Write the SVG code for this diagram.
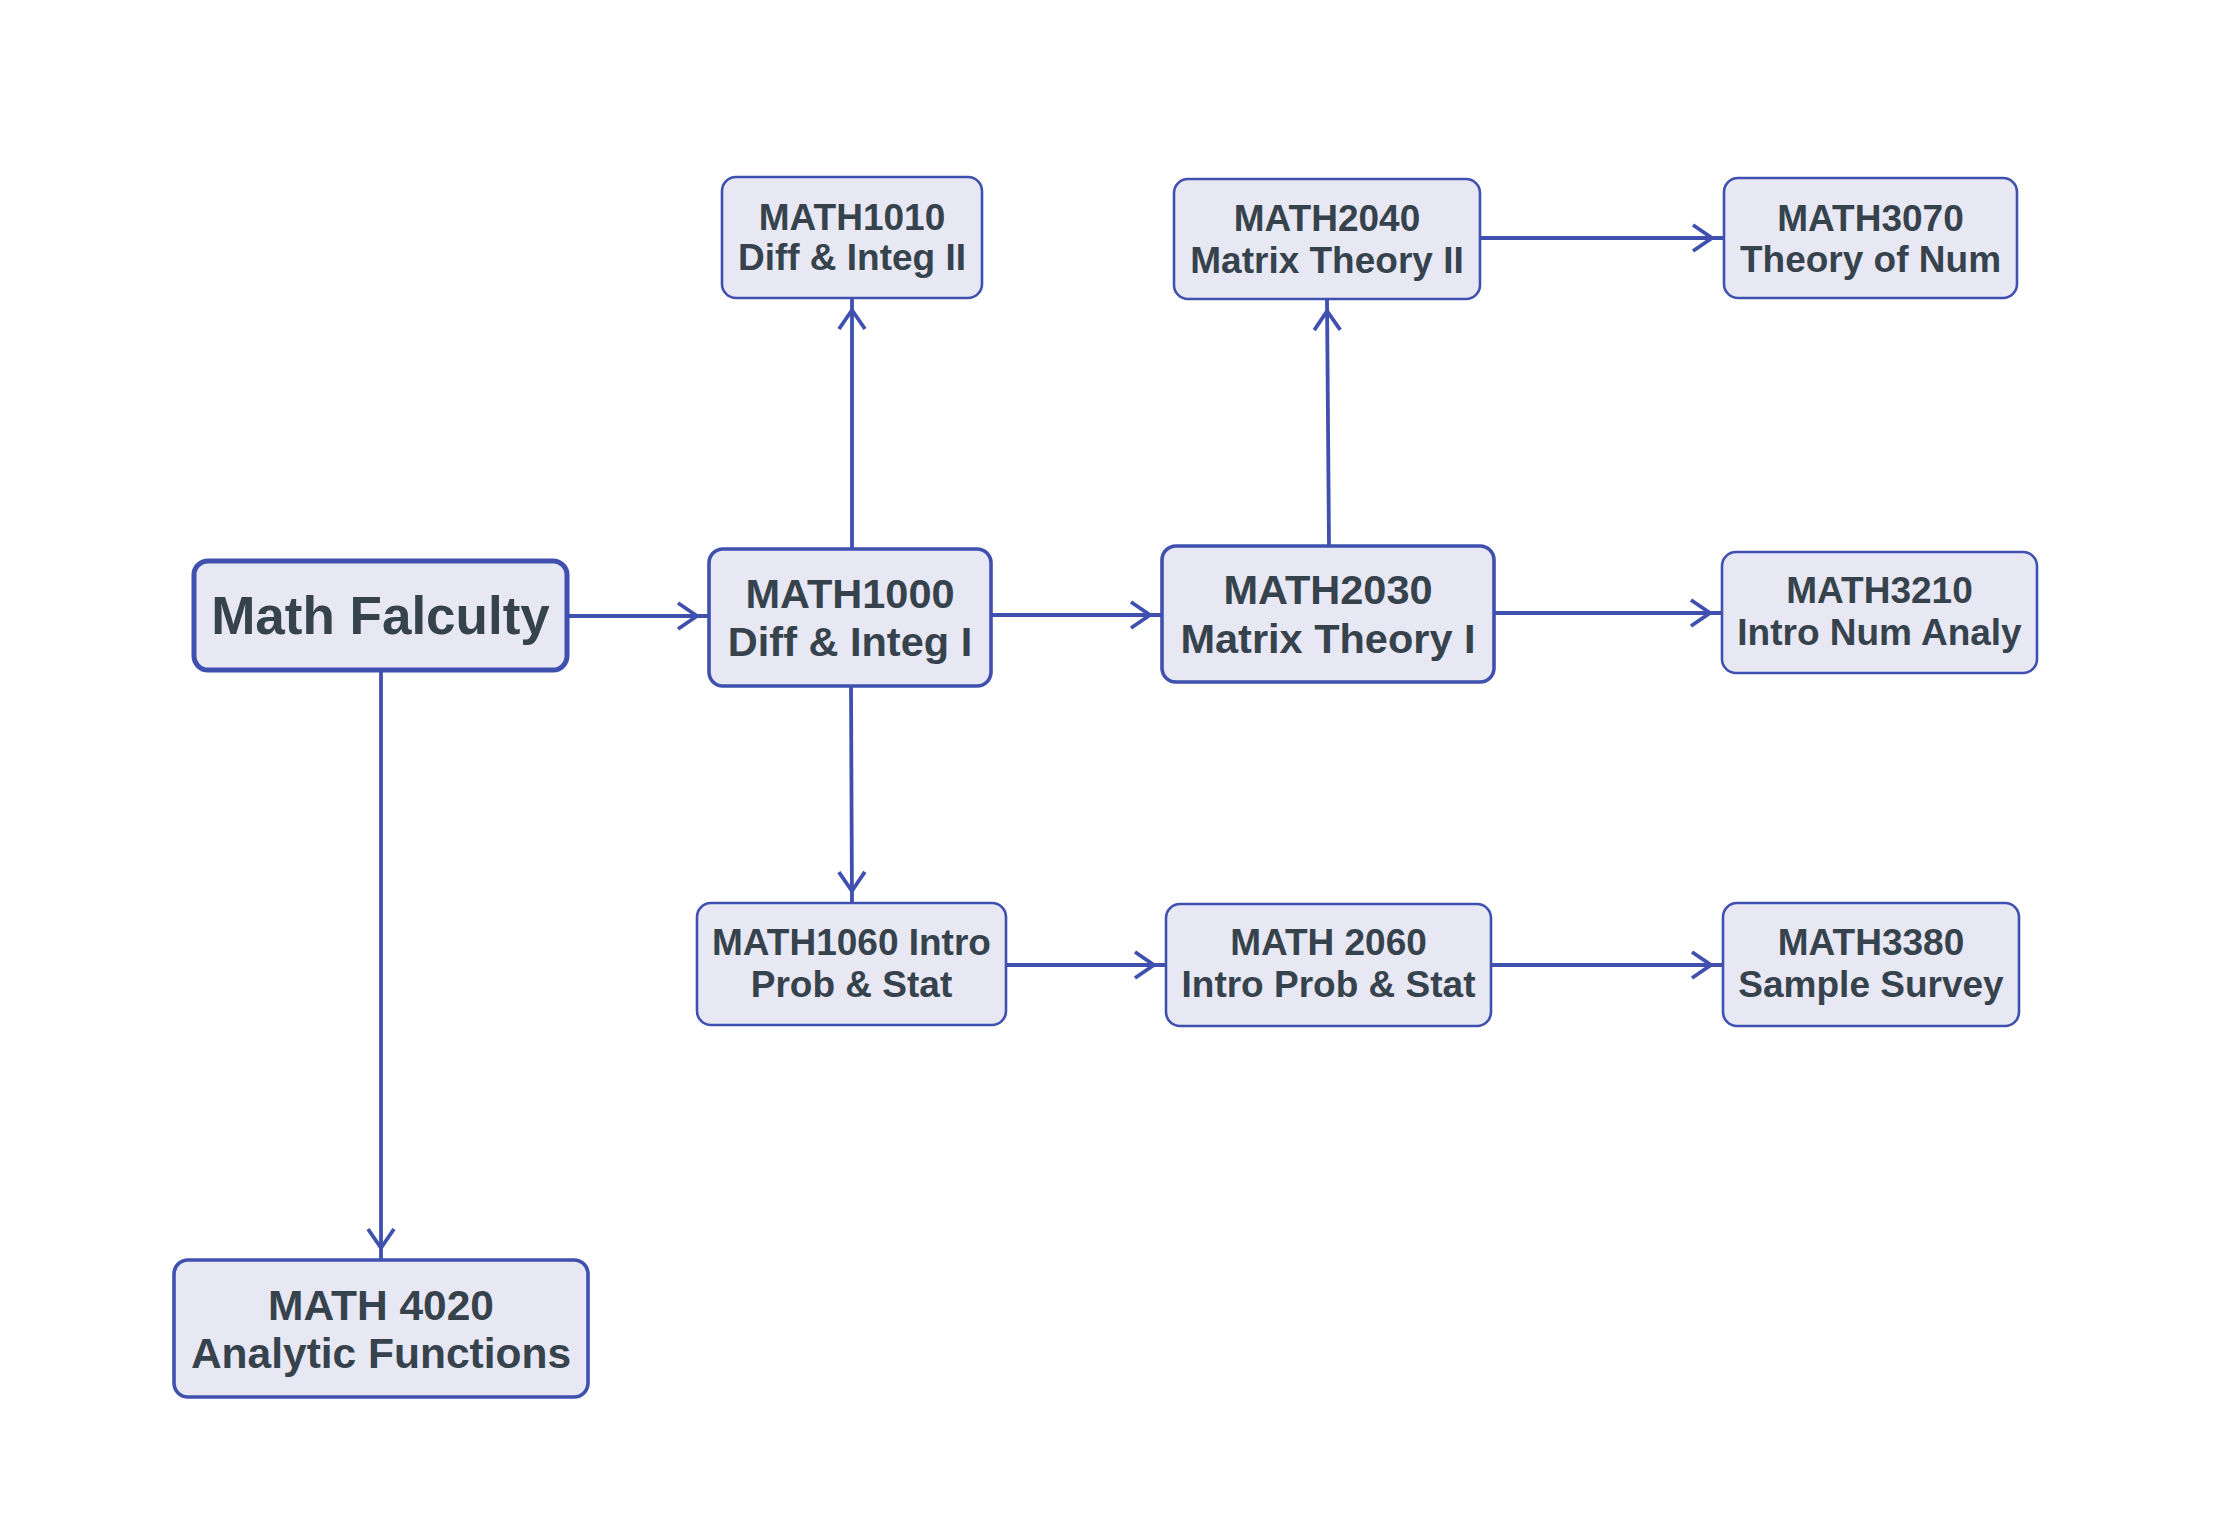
<svg xmlns="http://www.w3.org/2000/svg" width="2224" height="1537" viewBox="0 0 2224 1537">
<defs>
<style>
.node rect{fill:#E8E8F5;stroke:#4050AE;stroke-width:2.6}
.node.mid rect{stroke-width:3.6}
.node.root rect{stroke-width:5}
.node text{font-family:"Liberation Sans",Arial,sans-serif;font-weight:bold;fill:#36434C;text-anchor:middle}
.s text{font-size:37px}
.m text{font-size:41.5px}
.edges path{fill:none;stroke:#4050AE;stroke-width:3.8}
</style>
<marker id="arr" viewBox="-40 -20 44 40" refX="0" refY="0" markerWidth="44" markerHeight="40" markerUnits="userSpaceOnUse" orient="auto">
<path d="M-31,-13 L-12,0 L-31,13" fill="none" stroke="#4050AE" stroke-width="3.8"/>
</marker>
</defs>
<rect width="2224" height="1537" fill="#FFFFFF"/>
<g class="edges">
<path d="M567,616 L709,616" marker-end="url(#arr)"/>
<path d="M852,549 L852,298" marker-end="url(#arr)"/>
<path d="M991,615 L1162,615" marker-end="url(#arr)"/>
<path d="M1329,546 L1327,299" marker-end="url(#arr)"/>
<path d="M1480,238 L1724,238" marker-end="url(#arr)"/>
<path d="M1494,613 L1722,613" marker-end="url(#arr)"/>
<path d="M851,686 L852,903" marker-end="url(#arr)"/>
<path d="M1006,965 L1166,965" marker-end="url(#arr)"/>
<path d="M1491,965 L1723,965" marker-end="url(#arr)"/>
<path d="M381,670 L381,1260" marker-end="url(#arr)"/>
</g>
<g id="math-falculty" class="node root">
<rect x="194" y="561" width="373" height="109" rx="14"/>
<text x="380.5" y="634" style="font-size:53px">Math Falculty</text>
</g>
<g id="math1000" class="node mid m">
<rect x="709" y="549" width="282" height="137" rx="14"/>
<text x="850" y="608">MATH1000</text>
<text x="850" y="656">Diff &amp; Integ I</text>
</g>
<g id="math1010" class="node s">
<rect x="722" y="177" width="260" height="121" rx="14"/>
<text x="852" y="230">MATH1010</text>
<text x="852" y="270">Diff &amp; Integ II</text>
</g>
<g id="math2040" class="node s">
<rect x="1174" y="179" width="306" height="120" rx="14"/>
<text x="1327" y="231">MATH2040</text>
<text x="1327" y="273">Matrix Theory II</text>
</g>
<g id="math3070" class="node s">
<rect x="1724" y="178" width="293" height="120" rx="14"/>
<text x="1870.5" y="231">MATH3070</text>
<text x="1870.5" y="272">Theory of Num</text>
</g>
<g id="math2030" class="node mid m">
<rect x="1162" y="546" width="332" height="136" rx="14"/>
<text x="1328" y="604">MATH2030</text>
<text x="1328" y="653">Matrix Theory I</text>
</g>
<g id="math3210" class="node s">
<rect x="1722" y="552" width="315" height="121" rx="14"/>
<text x="1879.5" y="603">MATH3210</text>
<text x="1879.5" y="645">Intro Num Analy</text>
</g>
<g id="math1060" class="node s">
<rect x="697" y="903" width="309" height="122" rx="14"/>
<text x="851.5" y="955">MATH1060 Intro</text>
<text x="851.5" y="997">Prob &amp; Stat</text>
</g>
<g id="math2060" class="node s">
<rect x="1166" y="904" width="325" height="122" rx="14"/>
<text x="1328.5" y="955">MATH 2060</text>
<text x="1328.5" y="997">Intro Prob &amp; Stat</text>
</g>
<g id="math3380" class="node s">
<rect x="1723" y="903" width="296" height="123" rx="14"/>
<text x="1871" y="955">MATH3380</text>
<text x="1871" y="997">Sample Survey</text>
</g>
<g id="math4020" class="node mid m">
<rect x="174" y="1260" width="414" height="137" rx="14"/>
<text x="381" y="1320" style="font-size:42.5px">MATH 4020</text>
<text x="381" y="1368" style="font-size:42.5px">Analytic Functions</text>
</g>
</svg>
